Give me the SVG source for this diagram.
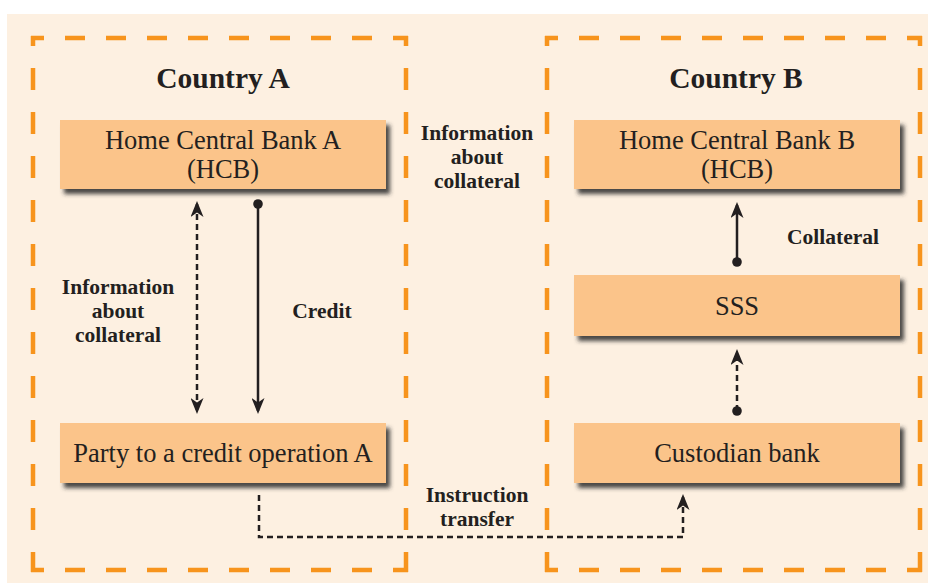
<svg xmlns="http://www.w3.org/2000/svg" width="935" height="583" viewBox="0 0 935 583">
  <style>
    .bg { fill: #FDF0E1; }
    .zone { stroke: #F7941D; stroke-width: 4.5; fill: none; }
    .zh { stroke-dasharray: 20 21; stroke-dashoffset: 7; }
    .zv { stroke-dasharray: 22 22; stroke-dashoffset: 12; }
    .box { fill: #FBC48A; filter: url(#shadow); }
    .node { font-family: "Liberation Serif", "Times New Roman", serif; font-size: 26.5px; fill: #231F20; text-anchor: middle; }
    .title { font-family: "Liberation Serif", "Times New Roman", serif; font-size: 29.5px; font-weight: bold; fill: #231F20; text-anchor: middle; }
    .lbl { font-family: "Liberation Serif", "Times New Roman", serif; font-size: 21.5px; font-weight: bold; fill: #231F20; text-anchor: middle; }
    .link { stroke: #231F20; stroke-width: 2.5; fill: none; }
    .dash { stroke-dasharray: 6 4; }
    .dot { fill: #231F20; }
  </style>
  <defs>
    <filter id="shadow" x="-5%" y="-20%" width="115%" height="150%">
      <feDropShadow dx="4" dy="5" stdDeviation="2.2" flood-color="#2b2b2b" flood-opacity="0.85"/>
    </filter>
    <marker id="arrow" viewBox="0 0 16 13" refX="13" refY="6.5" markerWidth="16" markerHeight="13" markerUnits="userSpaceOnUse" orient="auto-start-reverse">
      <path d="M0,0 L16,6.5 L0,13 L4.5,6.5 Z" fill="#231F20"/>
    </marker>
  </defs>

  <!-- page background -->
  <rect class="bg" x="7" y="14" width="921" height="569"/>

  <!-- country zones -->
  <g id="zone-country-a">
    <line class="zone zh" x1="31" y1="38" x2="408" y2="38"/>
    <line class="zone zh" x1="31" y1="570" x2="408" y2="570"/>
    <line class="zone zv" x1="33" y1="36" x2="33" y2="572"/>
    <line class="zone zv" x1="406" y1="36" x2="406" y2="572"/>
    <text class="title" x="223" y="88">Country A</text>
  </g>
  <g id="zone-country-b">
    <line class="zone zh" x1="545" y1="38" x2="922" y2="38"/>
    <line class="zone zh" x1="545" y1="570" x2="922" y2="570"/>
    <line class="zone zv" x1="547" y1="36" x2="547" y2="572"/>
    <line class="zone zv" x1="920" y1="36" x2="920" y2="572"/>
    <text class="title" x="736" y="88">Country B</text>
  </g>

  <!-- nodes -->
  <g id="hcb-a">
    <rect class="box" x="60" y="120" width="326" height="69"/>
    <text class="node" x="223" y="149">Home Central Bank A</text>
    <text class="node" x="223" y="178">(HCB)</text>
  </g>
  <g id="party-a">
    <rect class="box" x="60" y="423" width="326" height="60"/>
    <text class="node" x="223" y="462">Party to a credit operation A</text>
  </g>
  <g id="hcb-b">
    <rect class="box" x="574" y="120" width="326" height="69"/>
    <text class="node" x="737" y="149">Home Central Bank B</text>
    <text class="node" x="737" y="178">(HCB)</text>
  </g>
  <g id="sss">
    <rect class="box" x="574" y="275" width="326" height="61"/>
    <text class="node" x="737" y="315">SSS</text>
  </g>
  <g id="custodian">
    <rect class="box" x="574" y="423" width="326" height="60"/>
    <text class="node" x="737" y="462">Custodian bank</text>
  </g>

  <!-- connectors -->
  <g id="connectors">
    <line class="link dash" x1="197" y1="204" x2="197" y2="411" marker-start="url(#arrow)" marker-end="url(#arrow)"/>
    <line class="link" x1="258" y1="204" x2="258" y2="411" marker-end="url(#arrow)"/>
    <circle class="dot" cx="258" cy="204" r="4.8"/>
    <line class="link" x1="737" y1="262" x2="737" y2="205" marker-end="url(#arrow)"/>
    <circle class="dot" cx="737" cy="262" r="4.8"/>
    <line class="link dash" x1="737" y1="411" x2="737" y2="352" marker-end="url(#arrow)"/>
    <circle class="dot" cx="737" cy="411" r="4.8"/>
    <polyline class="link dash" points="259,495 259,537 683,537 683,497" marker-end="url(#arrow)"/>
  </g>

  <!-- connector labels -->
  <g id="labels">
    <text class="lbl" x="118" y="294">Information</text>
    <text class="lbl" x="118" y="318">about</text>
    <text class="lbl" x="118" y="342">collateral</text>
    <text class="lbl" x="322" y="318">Credit</text>
    <text class="lbl" x="477" y="140">Information</text>
    <text class="lbl" x="477" y="164">about</text>
    <text class="lbl" x="477" y="188">collateral</text>
    <text class="lbl" x="833" y="244">Collateral</text>
    <text class="lbl" x="477" y="502">Instruction</text>
    <text class="lbl" x="477" y="526">transfer</text>
  </g>
</svg>
